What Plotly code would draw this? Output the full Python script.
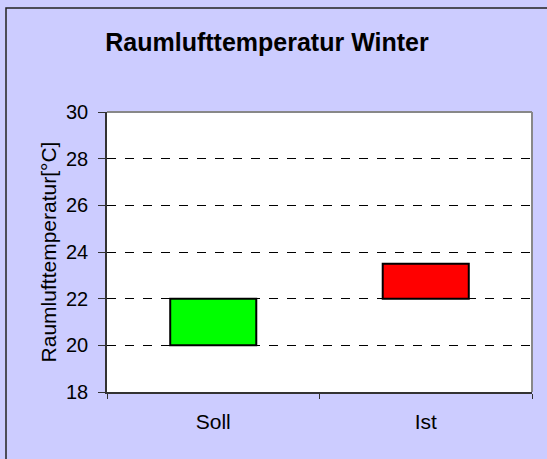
import plotly.graph_objects as go

categories = ["Soll", "Ist"]
low_values = [20, 22]
high_values = [22, 23.5]
bar_colors = ["#00FF00", "#FF0000"]
y_ticks = [18, 20, 22, 24, 26, 28, 30]

W, H = 547, 459
L, R, T, B = 107, 15, 112, 67
pw, ph = W - L - R, H - T - B

fig = go.Figure()
fig.add_trace(go.Bar(
    x=categories,
    y=[h - l for h, l in zip(high_values, low_values)],
    base=low_values,
    marker=dict(color=bar_colors, line=dict(color="black", width=2)),
    width=0.405,
    hoverinfo="skip",
))

def px_x(p):
    return (p - L) / pw

def px_y(p):
    return (H - B - p) / ph

fig.update_layout(
    width=W, height=H,
    margin=dict(l=L, r=R, t=T, b=B),
    paper_bgcolor="#CCCCFF",
    plot_bgcolor="white",
    showlegend=False,
    font=dict(family="Liberation Sans, Arial", color="black", size=20),
    title=dict(text="<b>Raumlufttemperatur Winter</b>", x=267 / W, xanchor="center",
               y=1 - 42 / H, yanchor="middle", font=dict(size=25)),
    xaxis=dict(showline=True, linecolor="#333333", linewidth=1.5, ticks="outside",
               tickson="boundaries", ticklen=5, tickcolor="#333333", showgrid=False,
               tickfont=dict(size=21), ticklabelstandoff=10),
    yaxis=dict(range=[18, 30], tickvals=y_ticks, showline=True, linecolor="#333333",
               linewidth=1.5, ticks="outside", ticklen=7, tickcolor="#333333",
               showgrid=True, gridcolor="black", griddash="dash", gridwidth=1,
               zeroline=False, ticklabelstandoff=6, tickfont=dict(size=20),
               title=dict(text="Raumlufttemperatur[°C]", standoff=4,
                          font=dict(size=21))),
    shapes=[
        dict(type="line", xref="paper", yref="paper", x0=0, x1=1, y0=1, y1=1,
             line=dict(color="#888888", width=2)),
        dict(type="line", xref="paper", yref="paper", x0=1, x1=1, y0=0, y1=1,
             line=dict(color="#888888", width=2)),
        dict(type="rect", xref="paper", yref="paper", x0=px_x(6), x1=px_x(W + 20),
             y0=px_y(H + 20), y1=px_y(8), line=dict(color="#222222", width=1.5),
             layer="below"),
    ],
)

fig.write_html("out.html", config={"displayModeBar": False},
               post_script="document.body.style.margin='0';document.body.style.padding='0';")
